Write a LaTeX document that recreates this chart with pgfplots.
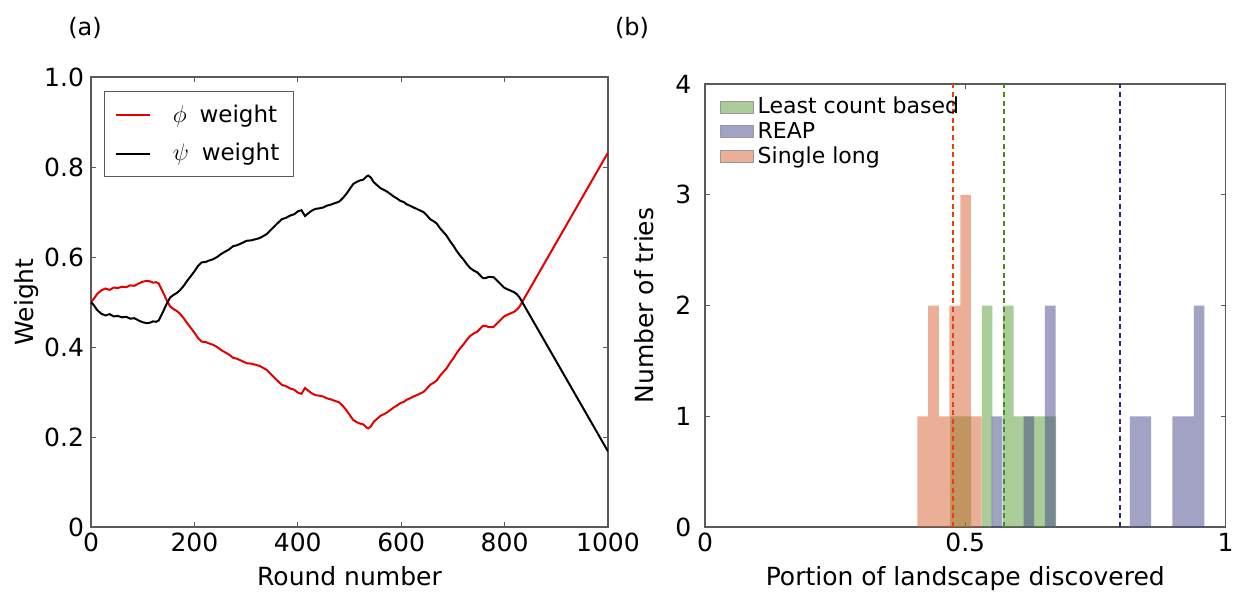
\documentclass[border=0pt]{standalone}
\usepackage{fontspec}
\setmainfont{DejaVu Sans}
\usepackage{pgfplots}
\usepackage{pgfplotstable}
\pgfplotsset{compat=1.18}

\definecolor{salmonc}{RGB}{215,95,47}
\definecolor{greenc}{RGB}{83,153,49}
\definecolor{bluec}{RGB}{69,69,137}
\definecolor{meanred}{RGB}{240,60,10}
\definecolor{meangreen}{RGB}{70,140,30}
\definecolor{meanblue}{RGB}{40,40,130}
\definecolor{framec}{RGB}{90,90,90}

\pgfplotstableread{
x phi psi
0 0.500 0.500
6 0.508 0.492
12 0.518 0.482
20 0.526 0.474
28 0.530 0.470
36 0.527 0.473
44 0.532 0.468
52 0.531 0.469
60 0.534 0.466
68 0.533 0.467
76 0.537 0.463
84 0.536 0.464
92 0.541 0.459
100 0.545 0.455
108 0.547 0.453
114 0.546 0.454
120 0.543 0.457
126 0.544 0.456
131 0.541 0.459
138 0.525 0.475
146 0.505 0.495
153 0.490 0.510
160 0.484 0.516
166 0.480 0.520
172 0.474 0.526
180 0.463 0.537
186 0.453 0.547
192 0.444 0.556
200 0.432 0.568
207 0.420 0.580
214 0.412 0.588
222 0.411 0.589
228 0.408 0.592
236 0.405 0.595
244 0.400 0.600
252 0.393 0.607
258 0.389 0.611
266 0.384 0.616
275 0.376 0.624
282 0.374 0.626
290 0.370 0.630
301 0.364 0.636
310 0.363 0.637
320 0.360 0.640
326 0.358 0.642
334 0.353 0.647
340 0.349 0.651
346 0.342 0.658
353 0.334 0.666
360 0.326 0.674
369 0.316 0.684
377 0.313 0.687
385 0.308 0.692
393 0.305 0.695
401 0.298 0.702
407 0.296 0.704
414 0.309 0.691
420 0.303 0.697
427 0.297 0.703
434 0.293 0.707
441 0.292 0.708
449 0.290 0.710
456 0.286 0.714
463 0.284 0.716
470 0.281 0.719
475 0.279 0.721
480 0.277 0.723
488 0.268 0.732
495 0.258 0.742
501 0.248 0.752
507 0.238 0.762
514 0.233 0.767
520 0.230 0.770
527 0.228 0.772
532 0.222 0.778
536 0.219 0.781
541 0.223 0.777
547 0.234 0.766
553 0.240 0.760
560 0.247 0.753
567 0.251 0.749
573 0.255 0.745
579 0.260 0.740
586 0.266 0.734
592 0.270 0.730
598 0.275 0.725
605 0.278 0.722
611 0.283 0.717
617 0.286 0.714
624 0.290 0.710
630 0.293 0.707
637 0.297 0.703
643 0.300 0.700
650 0.308 0.692
656 0.316 0.684
662 0.320 0.680
669 0.326 0.674
675 0.336 0.664
682 0.345 0.655
688 0.353 0.647
694 0.364 0.636
701 0.375 0.625
707 0.386 0.614
714 0.397 0.603
720 0.405 0.595
727 0.416 0.584
733 0.424 0.576
740 0.430 0.570
747 0.434 0.566
753 0.441 0.559
758 0.447 0.553
763 0.447 0.553
770 0.444 0.556
779 0.445 0.555
785 0.452 0.548
792 0.460 0.540
799 0.468 0.532
806 0.472 0.528
812 0.475 0.525
818 0.478 0.522
824 0.483 0.517
829 0.490 0.510
834 0.500 0.500
1000 0.832 0.168
}\weights

\pgfplotstableread{
x n
0.4079 1
0.4285 2
0.4491 1
0.4697 2
0.4904 3
0.5110 1
0.5316 0
}\single

\pgfplotstableread{
x n
0.4707 1
0.4911 1
0.5115 0
0.5318 2
0.5522 0
0.5726 2
0.5929 1
0.6133 1
0.6337 1
0.6540 1
0.6744 0
}\least

\pgfplotstableread{
x n
0.5508 1
0.5712 0
0.5917 0
0.6121 1
0.6325 0
0.6530 2
0.6734 0
0.8164 1
0.8368 1
0.8572 0
0.8981 1
0.9185 1
0.9390 2
0.9594 0
}\reap

\pgfplotstableread{
x y
0.4770 0
0.4770 4
}\meansingle

\pgfplotstableread{
x y
0.5745 0
0.5745 4
}\meanleast

\pgfplotstableread{
x y
0.7973 0
0.7973 4
}\meanreap

\pgfplotsset{
  myaxis/.style={
    scale only axis, anchor=south west,
    axis line style={framec, line width=0.6pt},
    tick style={framec, line width=0.5pt},
    major tick length=2.5pt,
    tick align=inside,
    /pgf/number format/assume math mode=true,
    every tick label/.append style={font=\fontsize{12.5}{14}\selectfont},
    xticklabel style={anchor=base, yshift=-12pt},
    every axis x label/.style={at={(rel axis cs:0.5,0)}, anchor=base, yshift=-29pt, font=\fontsize{12.5}{14}\selectfont},
  },
}

\begin{document}
\begin{tikzpicture}
\useasboundingbox (0,0) rectangle (616.5pt,295.5pt);

\node[font=\fontsize{12}{14}\selectfont] at (42.5pt,281.5pt) {(a)};
\node[font=\fontsize{12}{14}\selectfont] at (316pt,281.5pt) {(b)};

\begin{axis}[myaxis,
  at={(45.5pt,32pt)},
  width=258.5pt, height=225pt,
  xmin=0, xmax=1000, ymin=0, ymax=1,
  xtick={0,200,400,600,800,1000},
  xticklabels={0,200,400,600,800,1000},
  ytick={0,0.2,0.4,0.6,0.8,1.0},
  yticklabels={0,0.2,0.4,0.6,0.8,1.0},
  xlabel={Round number},
  ylabel={Weight},
  every axis y label/.style={at={(rel axis cs:0,0.5)}, xshift=-28.9pt, rotate=90, anchor=base, font=\fontsize{12.5}{14}\selectfont},
  legend style={at={(0.026,0.968)}, anchor=north west, draw=framec, fill=white,
    font=\fontsize{11.5}{13}\selectfont, inner xsep=5pt, inner ysep=4.5pt, row sep=5pt,
    /tikz/every odd column/.append style={column sep=9pt},
    cells={anchor=west}},
  legend cell align=left,
]
\addplot[red!90!black, line width=1pt] table[x=x, y=phi] {\weights};
\addlegendentry{$\phi$\hspace{0.55em}weight}
\addplot[black, line width=1pt] table[x=x, y=psi] {\weights};
\addlegendentry{$\psi$\hspace{0.55em}weight}
\end{axis}

\begin{axis}[myaxis,
  at={(352.5pt,32pt)},
  width=260.25pt, height=221.5pt,
  xmin=0, xmax=1, ymin=0, ymax=4,
  xtick={0,0.5,1},
  xticklabels={0,0.5,1},
  ytick={0,1,2,3,4},
  yticklabels={0,1,2,3,4},
  yticklabel style={xshift=-3.3pt},
  xlabel={Portion of landscape discovered},
  ylabel={Number of tries},
  every axis y label/.style={at={(rel axis cs:0,0.5)}, xshift=-26pt, rotate=90, anchor=base, font=\fontsize{12.5}{14}\selectfont},
  legend style={at={(0.024,0.985)}, anchor=north west, draw=none, fill=none,
    font=\fontsize{11}{12}\selectfont, inner xsep=1pt, inner ysep=1pt, row sep=-1.2pt,
    cells={anchor=west}},
  legend cell align=left,
]
\addlegendimage{legend image code/.code={\draw[fill=greenc, fill opacity=0.5, draw=gray!80] (0pt,-3pt) rectangle (16.5pt,3pt);}}
\addlegendentry{Least count based}
\addlegendimage{legend image code/.code={\draw[fill=bluec, fill opacity=0.5, draw=gray!80] (0pt,-3pt) rectangle (16.5pt,3pt);}}
\addlegendentry{REAP}
\addlegendimage{legend image code/.code={\draw[fill=salmonc, fill opacity=0.5, draw=gray!80] (0pt,-3pt) rectangle (16.5pt,3pt);}}
\addlegendentry{Single long}

\addplot[const plot mark left, fill=greenc, fill opacity=0.5, draw=none, forget plot] table[x=x, y=n] {\least} \closedcycle;
\addplot[const plot mark left, fill=bluec, fill opacity=0.5, draw=none, forget plot] table[x=x, y=n] {\reap} \closedcycle;
\addplot[const plot mark left, fill=salmonc, fill opacity=0.5, draw=none, forget plot] table[x=x, y=n] {\single} \closedcycle;

\addplot[draw=meanblue, mark=none, line width=0.8pt, dash pattern=on 2.5pt off 1.8pt, forget plot] table[x=x, y=y] {\meanreap};
\addplot[draw=meangreen, mark=none, line width=0.8pt, dash pattern=on 2.5pt off 1.8pt, forget plot] table[x=x, y=y] {\meanleast};
\addplot[draw=meanred, mark=none, line width=1pt, dash pattern=on 2.5pt off 1.8pt, forget plot] table[x=x, y=y] {\meansingle};
\end{axis}
\end{tikzpicture}
\end{document}
